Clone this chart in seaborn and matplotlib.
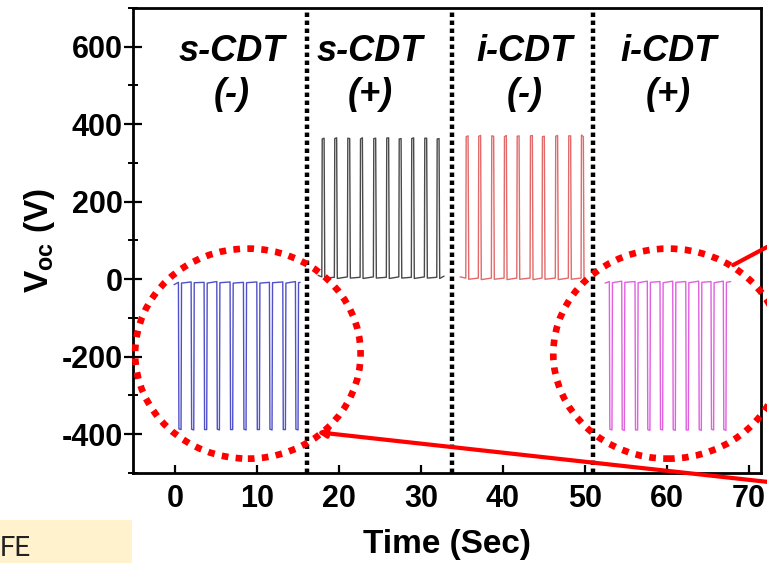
import numpy as np
import pandas as pd
import matplotlib
matplotlib.use('Agg')
import matplotlib.pyplot as plt
import seaborn as sns
from matplotlib.patches import Ellipse, Rectangle
from matplotlib.ticker import MultipleLocator

# ---------------- data ----------------
blue_t = [-0.09, 0.44, 0.50, 0.76, 0.82, 1.99, 2.05, 2.31, 2.37, 3.57, 3.63, 3.89, 3.95,
          5.12, 5.18, 5.44, 5.50, 6.74, 6.80, 7.06, 7.12, 8.37, 8.43, 8.69, 8.75,
          10.00, 10.06, 10.32, 10.38, 11.54, 11.60, 11.86, 11.92, 13.17, 13.23, 13.49, 13.55,
          14.71, 14.77, 15.03, 15.09, 15.28]
blue_v = [-14, -8, -386, -388, -10, -7, -387, -389, -9, -8, -388, -388, -10, -6, -387, -389, -9,
          -7, -388, -388, -10, -8, -387, -389, -9, -7, -388, -388, -10, -8, -387, -389, -9,
          -7, -388, -388, -10, -6, -387, -389, -9, -8]

black_t = [17.48, 17.93, 17.98, 18.21, 18.29, 19.46, 19.51, 19.74, 19.82, 21.05, 21.10, 21.33, 21.41,
           22.60, 22.65, 22.88, 22.96, 24.22, 24.27, 24.50, 24.58, 25.80, 25.85, 26.08, 26.16,
           27.32, 27.37, 27.60, 27.68, 28.85, 28.90, 29.13, 29.21, 30.44, 30.49, 30.72, 30.80,
           31.95, 32.00, 32.23, 32.31, 32.84]
black_v = [10, 6, 362, 364, 3, 5, 363, 365, 2, 6, 364, 363, 3, 5, 362, 365, 2, 6, 363, 364, 3,
           5, 364, 365, 2, 6, 362, 363, 3, 5, 363, 365, 2, 6, 364, 364, 3, 5, 362, 363, 2, 8]

red_t = [34.80, 35.49, 35.54, 35.77, 35.85, 37.02, 37.07, 37.30, 37.38, 38.61, 38.66, 38.89, 38.97,
         40.16, 40.21, 40.44, 40.52, 41.71, 41.76, 41.99, 42.07, 43.33, 43.38, 43.61, 43.69,
         44.79, 44.84, 45.07, 45.15, 46.41, 46.46, 46.69, 46.77, 48.00, 48.05, 48.28, 48.36,
         49.55, 49.60, 49.83, 49.91, 50.04]
red_v = [6, 3, 368, 370, 0, 3, 369, 371, -1, 3, 370, 369, 0, 3, 368, 371, -1, 3, 369, 370, 0,
         3, 370, 371, -1, 3, 368, 369, 0, 3, 369, 371, -1, 3, 370, 370, 0, 3, 372, 368, 0, 2]

mag_t = [52.48, 53.00, 53.06, 53.32, 53.38, 54.51, 54.57, 54.83, 54.89, 56.13, 56.19, 56.45, 56.51,
         57.63, 57.69, 57.95, 58.01, 59.18, 59.24, 59.50, 59.56, 60.73, 60.79, 61.05, 61.11,
         62.32, 62.38, 62.64, 62.70, 63.90, 63.96, 64.22, 64.28, 65.40, 65.46, 65.72, 65.78,
         66.90, 66.96, 67.22, 67.28, 67.80]
mag_v = [-10, -6, -387, -389, -9, -5, -388, -390, -8, -6, -389, -389, -9, -5, -388, -390, -8,
         -6, -387, -389, -9, -5, -388, -390, -8, -6, -389, -389, -9, -5, -388, -390, -8,
         -6, -387, -389, -9, -5, -388, -390, -8, -6]

modes = ["s-CDT (-)", "s-CDT (+)", "i-CDT (-)", "i-CDT (+)"]
mode_colors = ["#5050c8", "#4a4a4a", "#e26a6a", "#e060e0"]
label_top = ["s-CDT", "s-CDT", "i-CDT", "i-CDT"]
label_sign = ["(-)", "(+)", "(-)", "(+)"]
label_x = [6.99, 23.8, 42.7, 60.2]
divider_x = [16.17, 33.78, 51.05]
xticks = [0, 10, 20, 30, 40, 50, 60, 70]
yticks = [-400, -200, 0, 200, 400, 600]

# ---------------- styling ----------------
sns.set_theme(style='ticks')
plt.rcParams['font.family'] = ['Liberation Sans', 'DejaVu Sans']
plt.rcParams['font.weight'] = 'bold'
plt.rcParams['axes.unicode_minus'] = False
plt.rcParams['text.color'] = 'black'
plt.rcParams['axes.labelcolor'] = 'black'
plt.rcParams['xtick.labelcolor'] = 'black'
plt.rcParams['ytick.labelcolor'] = 'black'
plt.rcParams['mathtext.fontset'] = 'custom'
plt.rcParams['mathtext.rm'] = 'Liberation Sans:bold'
plt.rcParams['mathtext.it'] = 'Liberation Sans:bold'
plt.rcParams['mathtext.bf'] = 'Liberation Sans:bold'

df = pd.concat([
    pd.DataFrame({'t': blue_t, 'v': blue_v, 'mode': modes[0]}),
    pd.DataFrame({'t': black_t, 'v': black_v, 'mode': modes[1]}),
    pd.DataFrame({'t': red_t, 'v': red_v, 'mode': modes[2]}),
    pd.DataFrame({'t': mag_t, 'v': mag_v, 'mode': modes[3]}),
], ignore_index=True)

fig = plt.figure(figsize=(7.67, 5.63), dpi=100)
ax = fig.add_axes([0.1734, 0.1599, 0.8188, 0.8259])

sns.lineplot(data=df, x='t', y='v', hue='mode', palette=dict(zip(modes, mode_colors)),
             sort=False, estimator=None, lw=1.0, legend=False, ax=ax)

ax.set_xlim(-5.1, 71.5)
ax.set_ylim(-500, 700)
ax.set_xticks(xticks)
ax.set_yticks(yticks)
ax.yaxis.set_minor_locator(MultipleLocator(100))

for s in ax.spines.values():
    s.set_color('black')
    s.set_linewidth(2.0)
    s.set_visible(True)

ax.tick_params(axis='x', which='major', direction='in', length=6, width=1.6,
               labelsize=22, pad=8, color='black', top=False)
ax.tick_params(axis='y', which='major', direction='inout', length=13, width=1.6,
               labelsize=22, pad=1, color='black', right=False)
ax.tick_params(axis='y', which='minor', direction='inout', length=7, width=1.4,
               color='black', right=False)
ax.tick_params(axis='x', which='minor', bottom=False, top=False)

ax.set_xlabel('Time (Sec)', fontsize=24, fontweight='bold', labelpad=11)
ax.set_ylabel('V$_{\\rm oc}$ (V)', fontsize=24, fontweight='bold', labelpad=3)

for x in divider_x:
    ax.axvline(x, color='black', lw=3.2, ls=(0, (1, 0.8)), zorder=3)

for x, t1, t2 in zip(label_x, label_top, label_sign):
    ax.text(x, 587, t1, fontsize=26, fontweight='bold', fontstyle='italic',
            ha='center', va='center')
    ax.text(x, 477, t2, fontsize=26, fontweight='bold', fontstyle='italic',
            ha='center', va='center')

# red dotted circles
for cx, w in [(8.91, 27.5), (60.16, 28.0)]:
    e = Ellipse((cx, -192), w, 542, fill=False, ec='#ff0000', lw=4.8,
                ls=(0, (1, 1.1)), clip_on=False, zorder=4)
    ax.add_patch(e)

# red pointer lines
ax.annotate('', xy=(17.32, -394.6), xytext=(80, -541), annotation_clip=False,
            arrowprops=dict(arrowstyle='-|>', color='#ff0000', lw=3, mutation_scale=12,
                            shrinkA=0, shrinkB=0), zorder=5)
ax.annotate('', xy=(68.1, 36.6), xytext=(75, 114.4), annotation_clip=False,
            arrowprops=dict(arrowstyle='-', color='#ff0000', lw=3,
                            shrinkA=0, shrinkB=0), zorder=5)

# cropped note box at bottom-left
fig.patches.append(Rectangle((0, 0), 0.172, 0.0764, transform=fig.transFigure,
                             facecolor='#fff2cc', edgecolor='none', zorder=0))
fig.text(0.0, 0.026, 'FE', fontsize=20, fontweight='normal', family=['Liberation Sans Narrow', 'Roboto', 'DejaVu Sans'],
         color='#222222', va='center', ha='left')

fig.savefig('out.png', dpi=100)
